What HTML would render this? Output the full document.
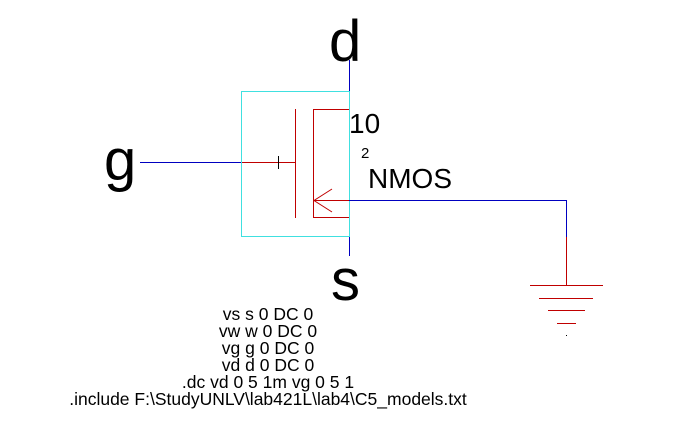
<!DOCTYPE html>
<html><head><style>
body{margin:0;background:#fff;width:682px;height:438px;overflow:hidden;position:relative}
.l{position:absolute}
.b{background:#0000c0}.r{background:#c00000}.c{background:#40e0e0}.k{background:#000}
svg{position:absolute;left:0;top:0}
text{font-family:"Liberation Sans",Arial,sans-serif;fill:#000}
</style></head><body>
<div class="l b" style="left:349px;top:60px;width:1px;height:31px"></div>
<div class="l b" style="left:349px;top:237px;width:1px;height:19px"></div>
<div class="l b" style="left:140px;top:162px;width:101px;height:1px"></div>
<div class="l" style="left:241px;top:91px;width:107px;height:144px;border:1px solid #40e0e0"></div>
<div class="l r" style="left:242px;top:162px;width:53px;height:1px"></div>
<div class="l k" style="left:278px;top:156px;width:1px;height:13px"></div>
<div class="l r" style="left:295px;top:109px;width:1px;height:109px"></div>
<div class="l r" style="left:313px;top:109px;width:36px;height:1px"></div>
<div class="l r" style="left:313px;top:109px;width:1px;height:109px"></div>
<div class="l r" style="left:313px;top:217px;width:36px;height:1px"></div>
<div class="l r" style="left:314px;top:200px;width:35px;height:1px"></div>
<div class="l b" style="left:349px;top:200px;width:218px;height:1px"></div>
<div class="l b" style="left:566px;top:200px;width:1px;height:37px"></div>
<div class="l r" style="left:566px;top:237px;width:1px;height:48px"></div>
<div class="l r" style="left:530px;top:285px;width:73px;height:1px"></div>
<div class="l r" style="left:539px;top:298px;width:54px;height:1px"></div>
<div class="l r" style="left:548px;top:310px;width:37px;height:1px"></div>
<div class="l r" style="left:557px;top:323px;width:19px;height:1px"></div>
<div class="l k" style="left:566px;top:335px;width:1px;height:1px"></div>
<svg width="682" height="438" xmlns="http://www.w3.org/2000/svg">
<polyline points="332,189 314,200.5 332,212" stroke="#c00000" fill="none"/>
<text x="329" y="61" font-size="58">d</text>
<text x="104" y="180" font-size="58">g</text>
<text x="331" y="300" font-size="58">s</text>
<text x="349" y="133" font-size="28">10</text>
<text x="361" y="158" font-size="15">2</text>
<text x="368" y="188" font-size="28">NMOS</text>
<g font-size="17.5" text-anchor="middle">
<text x="268" y="320">vs s 0 DC 0</text>
<text x="268" y="337">vw w 0 DC 0</text>
<text x="268" y="354">vg g 0 DC 0</text>
<text x="268" y="371">vd d 0 DC 0</text>
<text x="268" y="388">.dc vd 0 5 1m vg 0 5 1</text>
<text x="268" y="405">.include F:\StudyUNLV\lab421L\lab4\C5_models.txt</text>
</g>
</svg>
</body></html>
